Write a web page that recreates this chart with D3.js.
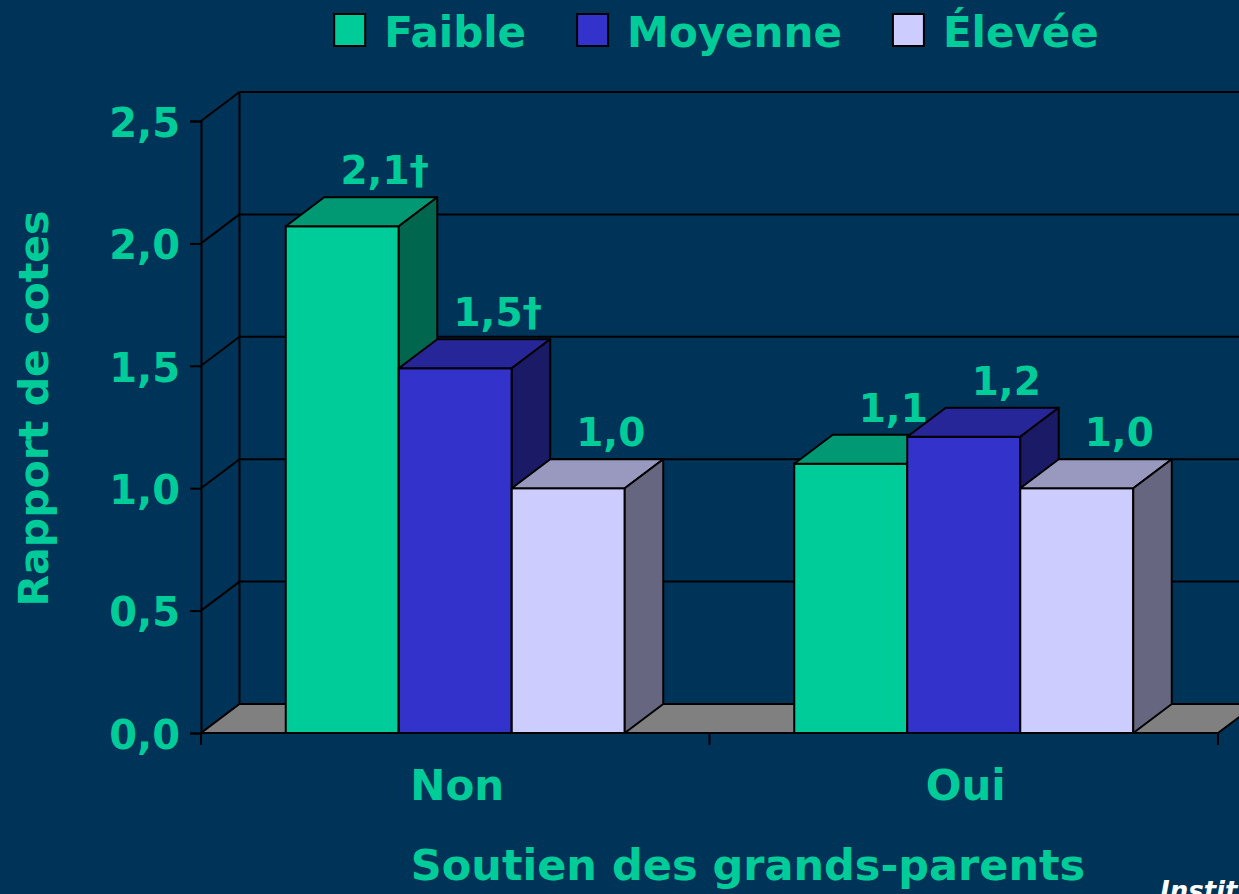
<!DOCTYPE html>
<html>
<head>
<meta charset="utf-8">
<script src="https://cdn.jsdelivr.net/npm/d3@7"></script>
<style>
  html, body { margin: 0; padding: 0; background: #003358; }
  svg { display: block; }
  text { font-family: "DejaVu Sans", Verdana, sans-serif; font-weight: bold; }
</style>
</head>
<body>
<svg id="chart" width="1239" height="894"></svg>
<script>
// ---- data ----
const categories = ["Non", "Oui"];
const series = ["Faible", "Moyenne", "Élevée"];
const valuesNon = [2.07, 1.49, 1.00];
const valuesOui = [1.10, 1.21, 1.00];
const significantNon = [true, true, false];
const significantOui = [false, false, false];
const yTicks = [0, 0.5, 1.0, 1.5, 2.0, 2.5];
const yTitle = "Rapport de cotes";
const xTitle = "Soutien des grands-parents";
const footerText = "Institut";

// ---- style ----
const W = 1239, H = 894;
const bgColor = "#003358";
const textColor = "#00CC99";
const seriesColors = ["#00CC99", "#3333CC", "#CCCCFF"];
const floorColor = "#808080";
const strokeColor = "#000000";

const rows = [
  { cat: "Non", values: valuesNon, sig: significantNon },
  { cat: "Oui", values: valuesOui, sig: significantOui }
];

const svg = d3.select("#chart");
svg.append("rect").attr("width", W).attr("height", H).attr("fill", bgColor);

// layout
const pLeft = 201, pRight = 1218, pBottom = 733, pTop = 121;
const DX = 38.5, DY = -29;

const y = d3.scaleLinear().domain([0, 2.5]).range([pBottom, pTop]);
const x0 = d3.scaleBand().domain(categories).range([pLeft, pRight]).padding(0);
const x1 = d3.scaleBand().domain(series).range([0, x0.bandwidth()])
  .paddingInner(0).paddingOuter(0.75);
const color = d3.scaleOrdinal().domain(series).range(seriesColors);

function shade(c, k) {
  const r = d3.rgb(c);
  return d3.rgb(r.r * k, r.g * k, r.b * k).formatHex();
}

const g = svg.append("g");

// back wall gridlines
g.selectAll("line.grid").data(yTicks).join("line")
  .attr("class", "grid")
  .attr("x1", pLeft + DX).attr("x2", W + 20)
  .attr("y1", d => y(d) + DY).attr("y2", d => y(d) + DY)
  .attr("stroke", strokeColor).attr("stroke-width", 2);

// left wall diagonals
g.selectAll("line.diag").data(yTicks).join("line")
  .attr("class", "diag")
  .attr("x1", pLeft).attr("y1", d => y(d))
  .attr("x2", pLeft + DX).attr("y2", d => y(d) + DY)
  .attr("stroke", strokeColor).attr("stroke-width", 2);

// left wall back vertical edge
g.append("line")
  .attr("x1", pLeft + DX).attr("x2", pLeft + DX)
  .attr("y1", y(2.5) + DY).attr("y2", y(0) + DY)
  .attr("stroke", strokeColor).attr("stroke-width", 2);

// floor
g.append("path")
  .attr("d", `M${pLeft},${y(0)} L${pLeft + DX},${y(0) + DY} L${pRight + DX},${y(0) + DY} L${pRight},${y(0)} Z`)
  .attr("fill", floorColor).attr("stroke", strokeColor).attr("stroke-width", 2)
  .attr("stroke-linejoin", "round");

// y axis
const yAxis = d3.axisLeft(y).tickValues(yTicks)
  .tickFormat(d => d3.format(".1f")(d).replace(".", ","))
  .tickSize(11).tickPadding(10);
const ya = g.append("g").attr("transform", `translate(${pLeft},0)`).call(yAxis);
ya.select(".domain").attr("stroke", strokeColor).attr("stroke-width", 2);
ya.selectAll(".tick line").attr("stroke", strokeColor).attr("stroke-width", 2);
ya.selectAll(".tick text")
  .attr("fill", textColor).attr("font-size", 40)
  .attr("font-family", "DejaVu Sans").attr("font-weight", "bold")
  .attr("dy", "0.38em");

// bars (left to right for correct overlap)
const bars = [];
rows.forEach(r => {
  series.forEach((s, i) => {
    bars.push({ cat: r.cat, series: s, value: r.values[i], sig: r.sig[i] });
  });
});

const barG = g.append("g");
bars.forEach(b => {
  const xL = x0(b.cat) + x1(b.series);
  const xR = xL + x1.bandwidth();
  const yT = y(b.value), yB = y(0);
  const c = color(b.series);
  const bg2 = barG.append("g");
  bg2.append("rect")
    .attr("x", xL).attr("y", yT).attr("width", xR - xL).attr("height", yB - yT)
    .attr("fill", c).attr("stroke", strokeColor).attr("stroke-width", 2);
  bg2.append("path")
    .attr("d", `M${xL},${yT} L${xL + DX},${yT + DY} L${xR + DX},${yT + DY} L${xR},${yT} Z`)
    .attr("fill", shade(c, 0.75)).attr("stroke", strokeColor).attr("stroke-width", 2)
    .attr("stroke-linejoin", "round");
  bg2.append("path")
    .attr("d", `M${xR},${yT} L${xR + DX},${yT + DY} L${xR + DX},${yB + DY} L${xR},${yB} Z`)
    .attr("fill", shade(c, 0.5)).attr("stroke", strokeColor).attr("stroke-width", 2)
    .attr("stroke-linejoin", "round");
});

// x axis line + boundary ticks
g.append("line").attr("x1", pLeft).attr("x2", pRight)
  .attr("y1", pBottom).attr("y2", pBottom)
  .attr("stroke", strokeColor).attr("stroke-width", 2);
const boundaries = categories.map(c => x0(c)).concat([x0(categories[categories.length - 1]) + x0.bandwidth()]);
g.selectAll("line.xtick").data(boundaries).join("line")
  .attr("class", "xtick")
  .attr("x1", d => d).attr("x2", d => d)
  .attr("y1", pBottom).attr("y2", pBottom + 12)
  .attr("stroke", strokeColor).attr("stroke-width", 2);

// category labels
g.selectAll("text.cat").data(categories).join("text")
  .attr("class", "cat")
  .attr("x", d => x0(d) + x0.bandwidth() / 2 + 2)
  .attr("y", 800)
  .attr("text-anchor", "middle")
  .attr("fill", textColor).attr("font-size", 42)
  .text(d => d);

// data labels
g.selectAll("text.val").data(bars).join("text")
  .attr("class", "val")
  .attr("x", d => x0(d.cat) + x1(d.series) + x1.bandwidth() / 2 + DX + 4)
  .attr("y", d => y(d.value) + DY - 13)
  .attr("text-anchor", "middle")
  .attr("fill", textColor).attr("font-size", 39)
  .text(d => d3.format(".1f")(d.value).replace(".", ",") + (d.sig ? "†" : ""));

// axis titles
svg.append("text")
  .attr("transform", `translate(48,${(210 + 607) / 2}) rotate(-90)`)
  .attr("text-anchor", "middle")
  .attr("fill", textColor).attr("font-size", 41)
  .text(yTitle);

svg.append("text")
  .attr("x", 748).attr("y", 880)
  .attr("text-anchor", "middle")
  .attr("fill", textColor).attr("font-size", 43)
  .text(xTitle);

// legend
const leg = svg.append("g");
let lx = 0;
series.forEach((s, i) => {
  const it = leg.append("g");
  it.append("rect").attr("x", 0).attr("y", 14).attr("width", 31).attr("height", 32)
    .attr("fill", color(s)).attr("stroke", strokeColor).attr("stroke-width", 2);
  const t = it.append("text").attr("x", 50).attr("y", 47)
    .attr("fill", textColor).attr("font-size", 42).text(s);
  const w = 50 + t.node().getComputedTextLength();
  it.attr("transform", `translate(${lx},0)`);
  lx += w + 51;
});
const totalW = lx - 51;
leg.attr("transform", `translate(${716.5 - totalW / 2},0)`);

// footer (logo text, cropped at the corner as in the reference)
svg.append("text")
  .attr("x", 1160).attr("y", 900)
  .attr("fill", "#ffffff").attr("font-size", 26)
  .attr("font-style", "italic")
  .text(footerText);
</script>
</body>
</html>
